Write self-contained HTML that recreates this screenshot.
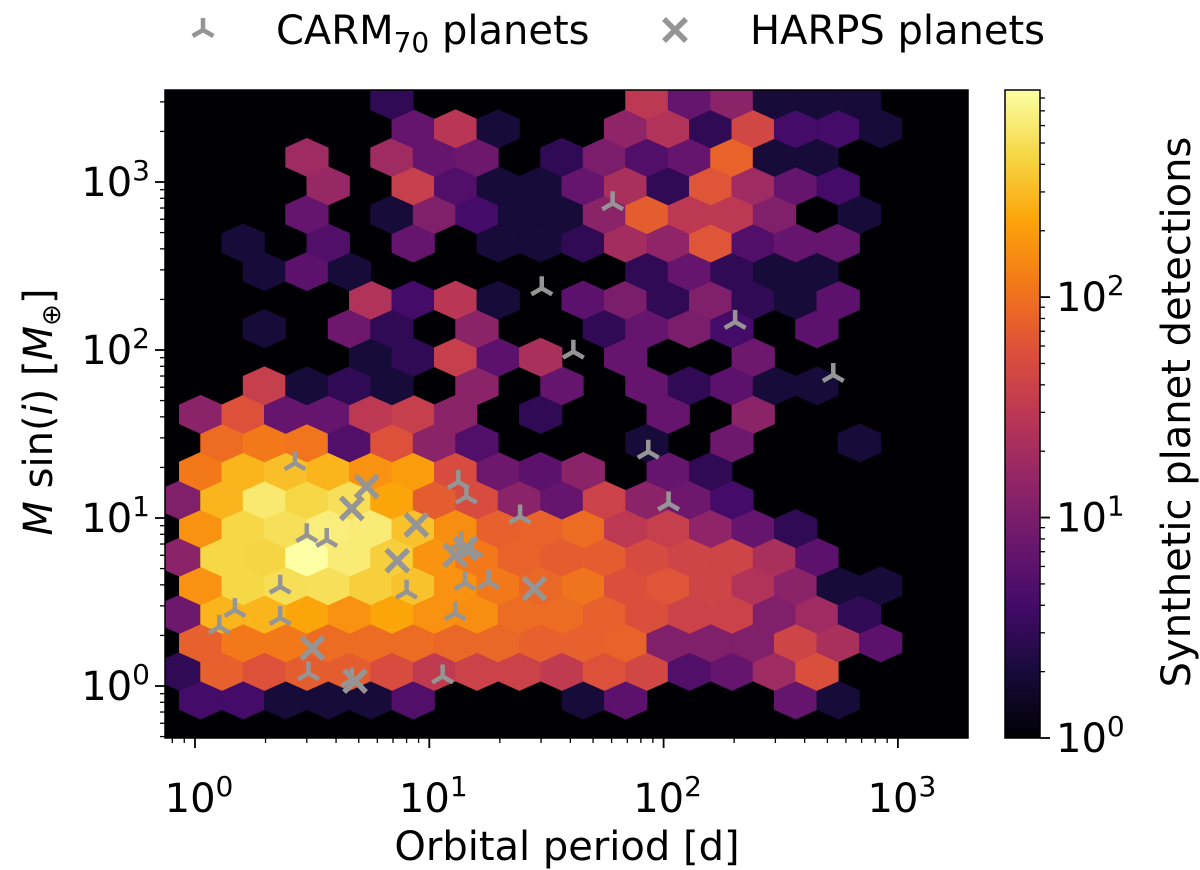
<!DOCTYPE html>
<html><head><meta charset="utf-8">
<style>
html,body{margin:0;padding:0;background:#fff;}
svg{display:block;font-family:"DejaVu Sans","Liberation Sans",sans-serif;}
</style></head>
<body>
<svg id="chart" width="1200" height="870" viewBox="0 0 1200 870" xmlns="http://www.w3.org/2000/svg">
  <defs>
    <clipPath id="plotClip"><rect x="165" y="90" width="803" height="648"/></clipPath>
    <linearGradient id="infernoGrad" x1="0" y1="1" x2="0" y2="0">
      <stop offset="0" stop-color="#000004"/><stop offset="0.1" stop-color="#160b39"/>
      <stop offset="0.2" stop-color="#420a68"/><stop offset="0.3" stop-color="#6a176e"/>
      <stop offset="0.4" stop-color="#932667"/><stop offset="0.5" stop-color="#bc3754"/>
      <stop offset="0.6" stop-color="#dd513a"/><stop offset="0.7" stop-color="#f37819"/>
      <stop offset="0.8" stop-color="#fca50a"/><stop offset="0.9" stop-color="#f6d746"/>
      <stop offset="1" stop-color="#fcffa4"/>
    </linearGradient>
  </defs>
  <rect x="165" y="90" width="803" height="648" fill="#000004"/>
  <g id="hexLayer" clip-path="url(#plotClip)"></g>
  <g id="markerLayer" clip-path="url(#plotClip)"></g>
  <rect x="165" y="90" width="803" height="648" fill="none" stroke="#000" stroke-width="1.5"/>
  <g id="axisLayer"></g>
  <text x="567" y="860" font-size="40" text-anchor="middle">Orbital period [d]</text>
  <text transform="translate(52,412) rotate(-90)" font-size="40" text-anchor="middle"><tspan font-style="italic">M</tspan> sin(<tspan font-style="italic">i</tspan>) [<tspan font-style="italic">M</tspan><tspan font-size="26" dy="8">⊕</tspan><tspan dy="-8">]</tspan></text>
  <rect x="1005" y="90" width="35" height="648" fill="url(#infernoGrad)" stroke="#000" stroke-width="1.5"/>
  <g id="cbarLayer"></g>
  <text transform="translate(1190,412) rotate(-90)" font-size="40" text-anchor="middle">Synthetic planet detections</text>
  <g>
    <g>
      <g id="legTri"></g>
      <text x="276" y="44" font-size="40">CARM<tspan font-size="28" dy="8">70</tspan><tspan dy="-8"> planets</tspan></text>
    </g>
    <g>
      <g id="legX"></g>
      <text x="750" y="44" font-size="40">HARPS planets</text>
    </g>
  </g>
</svg>
<script>
// ---- data ----
// hexbin counts, row 0 = bottom; each row indexed from column -1
const hexCounts = [
 [0,4,4,2,2,2,5,0,0,0,2,6,0,0,0,7,2,0,0,0],
 [3,76,58,72,72,51,33,40,40,33,58,45,5,7,18,55,0,0,0,0],
 [0,76,114,114,93,93,93,85,85,76,76,80,11,11,11,42,22,6,0,0],
 [8,275,275,224,170,224,170,160,93,93,76,55,40,40,11,18,3,0,0,0],
 [0,170,440,500,510,390,335,170,114,85,105,55,62,42,25,13,2,2,0,0],
 [13,440,430,870,620,390,175,114,80,72,72,50,42,42,22,6,0,0,0,0],
 [0,170,440,510,650,620,335,160,76,80,93,30,36,14,7,3,0,0,0,0],
 [11,280,600,440,510,224,72,51,13,7,40,13,8,4,0,0,0,0,0,0],
 [0,114,275,320,275,170,200,51,8,6,13,0,7,3,0,0,0,0,0,0],
 [0,93,114,108,5,58,13,5,0,0,0,2,0,8,0,0,2,0,0,0],
 [0,13,58,7,7,30,36,13,0,3,0,0,7,0,13,0,0,0,0,0],
 [0,0,36,2,3,2,0,13,0,7,0,7,3,6,2,2,0,0,0,0],
 [0,0,0,0,0,2,3,36,6,22,0,7,0,0,8,0,0,0,0,0],
 [0,0,2,0,8,3,0,13,0,0,3,7,10,4,0,6,0,0,0,0],
 [0,0,0,0,0,25,4,28,2,0,6,10,3,11,3,2,6,0,0,0],
 [0,0,2,6,2,0,0,0,0,0,0,3,7,3,2,2,0,0,0,0],
 [0,0,2,0,5,0,7,0,2,2,3,20,14,62,5,7,7,0,0,0],
 [0,0,0,7,0,2,11,4,2,2,13,72,30,30,11,0,2,0,0,0],
 [0,0,0,0,16,0,36,5,2,2,7,22,3,62,18,7,4,0,0,0],
 [0,0,0,18,0,18,7,8,0,3,10,5,7,80,2,2,0,0,0,0],
 [0,0,0,0,0,0,7,28,2,0,0,14,25,3,45,4,4,2,0,0],
 [0,0,0,0,0,3,0,0,0,0,0,30,7,13,2,2,2,0,0,0]
];
const carmPeriod = [2.67,3.0,3.65,2.31,1.48,1.27,2.31,3.05,4.67,11.4,13.3,14.4,24.4,13.7,15.2,14.2,17.9,8.0,12.9,60.6,30.2,41.2,202,530,86,105];
const carmMass   = [21.2,7.9,7.4,3.9,2.83,2.25,2.54,1.19,1.09,1.14,16.4,13.4,10.2,7.1,6.45,4.1,4.18,3.64,2.71,747,233,97.7,147,71,24.8,12.2];
const harpsPeriod = [5.4,4.67,8.8,7.3,12.9,14.3,28.1,3.17,4.82];
const harpsMass   = [15.4,11.4,9.1,5.57,6.0,6.6,3.8,1.68,1.07];
const xTickExps = [0,1,2,3];
const yTickExps = [0,1,2,3];
const cbarTickExps = [0,1,2];
const vmax = 870;

// ---- scales ----
const NS = "http://www.w3.org/2000/svg";
const X0 = 195, XDEC = 234.3, Y0 = 686, YDEC = 168;
function xPix(p){ return X0 + XDEC*Math.log10(p); }
function yPix(m){ return Y0 - YDEC*Math.log10(m); }
function xPixLog(l){ return X0 + XDEC*l; }
function yPixLog(l){ return Y0 - YDEC*l; }
const CB_TOP = 90, CB_BOT = 738;
function cbY(v){ return CB_BOT - (CB_BOT-CB_TOP)*Math.log10(v)/Math.log10(vmax); }

const infernoStops = ["#000004","#160b39","#420a68","#6a176e","#932667","#bc3754","#dd513a","#f37819","#fca50a","#f6d746","#fcffa4"];
function hex2rgb(h){ return [parseInt(h.slice(1,3),16),parseInt(h.slice(3,5),16),parseInt(h.slice(5,7),16)]; }
function inferno(t){
  t = Math.max(0, Math.min(1, t));
  const s = t*10, i = Math.min(9, Math.floor(s)), f = s - i;
  const a = hex2rgb(infernoStops[i]), b = hex2rgb(infernoStops[i+1]);
  return "rgb(" + a.map((v,k)=>Math.round(v+(b[k]-v)*f)).join(",") + ")";
}
function el(tag, attrs, parent){
  const e = document.createElementNS(NS, tag);
  for (const k in attrs) e.setAttribute(k, attrs[k]);
  parent.appendChild(e);
  return e;
}

// ---- hexbin grid (log space) ----
const gx0 = 0.0243, gdx = 0.18139, gy0 = -0.0833, gdy = 0.1700;
const hexLayer = document.getElementById("hexLayer");
hexCounts.forEach((row, r) => {
  row.forEach((cnt, ci) => {
    if (cnt <= 0) return;
    const c = ci - 1;
    const cx = xPixLog(gx0 + (c + (r % 2) * 0.5) * gdx);
    const cy = yPixLog(gy0 + r * gdy);
    const w = (xPixLog(gdx) - xPixLog(0)) / 2;
    const dyp = (yPixLog(0) - yPixLog(gdy));
    const hTop = dyp * 2 / 3, hSide = dyp / 3;
    const pts = [[cx, cy - hTop],[cx + w, cy - hSide],[cx + w, cy + hSide],[cx, cy + hTop],[cx - w, cy + hSide],[cx - w, cy - hSide]]
      .map(p => p[0].toFixed(2) + "," + p[1].toFixed(2)).join(" ");
    const col = inferno(Math.log10(cnt) / Math.log10(vmax));
    const h = el("polygon", {points: pts, fill: col, stroke: col, "stroke-width": 0.8}, hexLayer);
    
    
  });
});

// ---- markers ----
const markerLayer = document.getElementById("markerLayer");
const GRAY = "#959595";
function triUp(parent, x, y, s){
  const d = "M" + x + "," + y + " L" + x + "," + (y - s) +
            " M" + x + "," + y + " L" + (x - s*0.866) + "," + (y + s*0.5) +
            " M" + x + "," + y + " L" + (x + s*0.866) + "," + (y + s*0.5);
  return el("path", {d: d, stroke: GRAY, "stroke-width": 4.5, fill: "none"}, parent);
}
function xMark(parent, x, y, s){
  const d = "M" + (x - s) + "," + (y - s) + " L" + (x + s) + "," + (y + s) +
            " M" + (x - s) + "," + (y + s) + " L" + (x + s) + "," + (y - s);
  return el("path", {d: d, stroke: GRAY, "stroke-width": 5.5, fill: "none"}, parent);
}
carmPeriod.forEach((p, i) => {
  const m = triUp(markerLayer, xPix(p), yPix(carmMass[i]), 12);
  
  
});
harpsPeriod.forEach((p, i) => {
  const m = xMark(markerLayer, xPix(p), yPix(harpsMass[i]), 11);
  
  
});
const lt = triUp(document.getElementById("legTri"), 203, 30, 12);


const lx = xMark(document.getElementById("legX"), 675, 30, 11);



// ---- axes ----
const axisLayer = document.getElementById("axisLayer");
function powLabel(parent, x, y, e, anchor){
  const t = el("text", {x: x, y: y, "font-size": 40, "text-anchor": anchor}, parent);
  t.appendChild(document.createTextNode("10"));
  const s = el("tspan", {"font-size": 28, dy: -16}, t);
  s.textContent = String(e);
  return t;
}
// x ticks
for (let e = -1; e <= 3; e++) {
  for (let k = 1; k <= 9; k++) {
    const v = k * Math.pow(10, e);
    const x = xPix(v);
    if (x < 165 || x > 968) continue;
    const len = k === 1 ? 10 : 5;
    const tk = el("line", {x1: x, x2: x, y1: 738, y2: 738 + len, stroke: "#000", "stroke-width": k === 1 ? 1.8 : 1.3}, axisLayer);
    
    
  }
}
xTickExps.forEach(e => {
  const t = powLabel(axisLayer, xPix(Math.pow(10, e)) + 4, 812, e, "middle");
  
  
});
// y ticks
for (let e = -1; e <= 3; e++) {
  for (let k = 1; k <= 9; k++) {
    const v = k * Math.pow(10, e);
    const y = yPix(v);
    if (y < 90 || y > 738) continue;
    const len = k === 1 ? 10 : 5;
    const tk = el("line", {x1: 165 - len, x2: 165, y1: y, y2: y, stroke: "#000", "stroke-width": k === 1 ? 1.8 : 1.3}, axisLayer);
    
    
  }
}
yTickExps.forEach(e => {
  const t = powLabel(axisLayer, 150, yPix(Math.pow(10, e)) + 14, e, "end");
  
  
});
// colorbar ticks
const cbarLayer = document.getElementById("cbarLayer");
for (let e = 0; e <= 2; e++) {
  for (let k = 1; k <= 9; k++) {
    const v = k * Math.pow(10, e);
    if (v > vmax) continue;
    const y = cbY(v);
    const len = k === 1 ? 10 : 5;
    const tk = el("line", {x1: 1040, x2: 1040 + len, y1: y, y2: y, stroke: "#000", "stroke-width": k === 1 ? 1.8 : 1.3}, cbarLayer);
    
    
  }
}
cbarTickExps.forEach(e => {
  const t = powLabel(cbarLayer, 1056, cbY(Math.pow(10, e)) + 14, e, "start");
  
  
});
</script>
</body></html>
